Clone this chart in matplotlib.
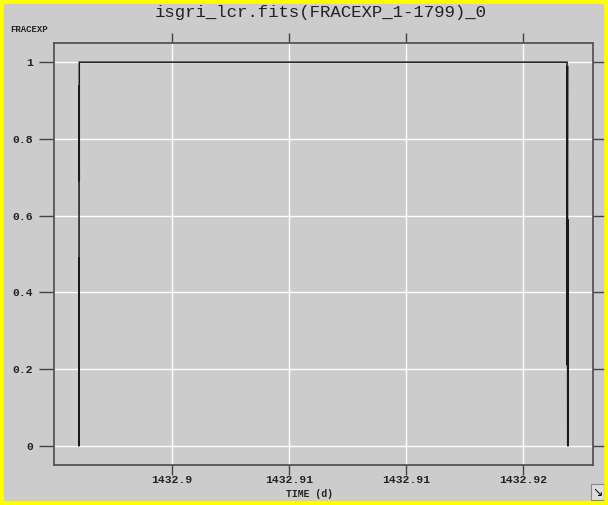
import matplotlib
matplotlib.use("Agg")
import matplotlib.pyplot as plt
from matplotlib.patches import Rectangle

# light curve exposure fraction (FRACEXP) vs time
time_d = [1432.89602, 1432.89602, 1432.89603, 1432.89603, 1432.89604, 1432.89604,
          1432.91688, 1432.91688, 1432.91690, 1432.91690, 1432.91691, 1432.91691,
          1432.91692, 1432.91692]
fracexp = [0.0, 0.49, 0.0, 0.94, 0.69, 1.0,
           1.0, 0.21, 0.99, 0.71, 0.0, 0.59, 0.37, 0.0]

xticks = [1432.900, 1432.905, 1432.910, 1432.915]
xticklabels = ["1432.9", "1432.91", "1432.91", "1432.92"]
yticks = [0, 0.2, 0.4, 0.6, 0.8, 1]
yticklabels = ["0", "0.2", "0.4", "0.6", "0.8", "1"]

bg = "#cccccc"
mono = "Liberation Mono"

fig = plt.figure(figsize=(6.08, 5.05), dpi=100, facecolor=bg)
ax = fig.add_axes([54 / 608, 1 - 465 / 505, (593 - 54) / 608, (465 - 43) / 505])
ax.set_facecolor(bg)

ax.plot(time_d, fracexp, color="#1a1a1a", linewidth=1.1, solid_joinstyle="miter")

ax.set_xlim(1432.89496, 1432.91799)
ax.set_ylim(-0.05, 1.05)

ax.set_xticks(xticks)
ax.set_xticklabels(xticklabels, fontfamily=mono, fontsize=8.2, fontweight="bold", color="#222222")
ax.set_yticks(yticks)
ax.set_yticklabels(yticklabels, fontfamily=mono, fontsize=8.2, fontweight="bold", color="#222222")
ax.tick_params(axis="both", direction="out", length=11, width=1.0, color="#444444",
               top=True, right=True, pad=4)
ax.tick_params(axis="x", length=7, pad=0)

ax.grid(True, color="white", linewidth=1.0)
ax.set_axisbelow(True)
for s in ax.spines.values():
    s.set_color("#555555")
    s.set_linewidth(1.3)

fig.text(0.528, 1 - 13 / 505, "isgri_lcr.fits(FRACEXP_1-1799)_0", ha="center", va="center",
         fontfamily=mono, fontsize=12.5, color="#222222")
fig.text(10 / 608, 1 - 29 / 505, "FRACEXP", ha="left", va="center",
         fontfamily=mono, fontsize=6.5, fontweight="bold", color="#222222")
fig.text(310 / 608, 1 - 494 / 505, "TIME (d)", ha="center", va="center",
         fontfamily=mono, fontsize=7, fontweight="bold", color="#222222")

# resize handle in the corner
fig.text(597 / 608, 1 - 492 / 505, "\u2198", ha="center", va="center", fontsize=9,
         color="#111111", bbox=dict(boxstyle="square,pad=0.1", fc="#dddddd", ec="#888888", lw=0.8))

# yellow window border
fig.patches.append(Rectangle((0, 0), 1, 1, transform=fig.transFigure, fill=False,
                             edgecolor="#ffff00", linewidth=5.5, zorder=10))

fig.savefig("out.png", dpi=100, facecolor=bg)
